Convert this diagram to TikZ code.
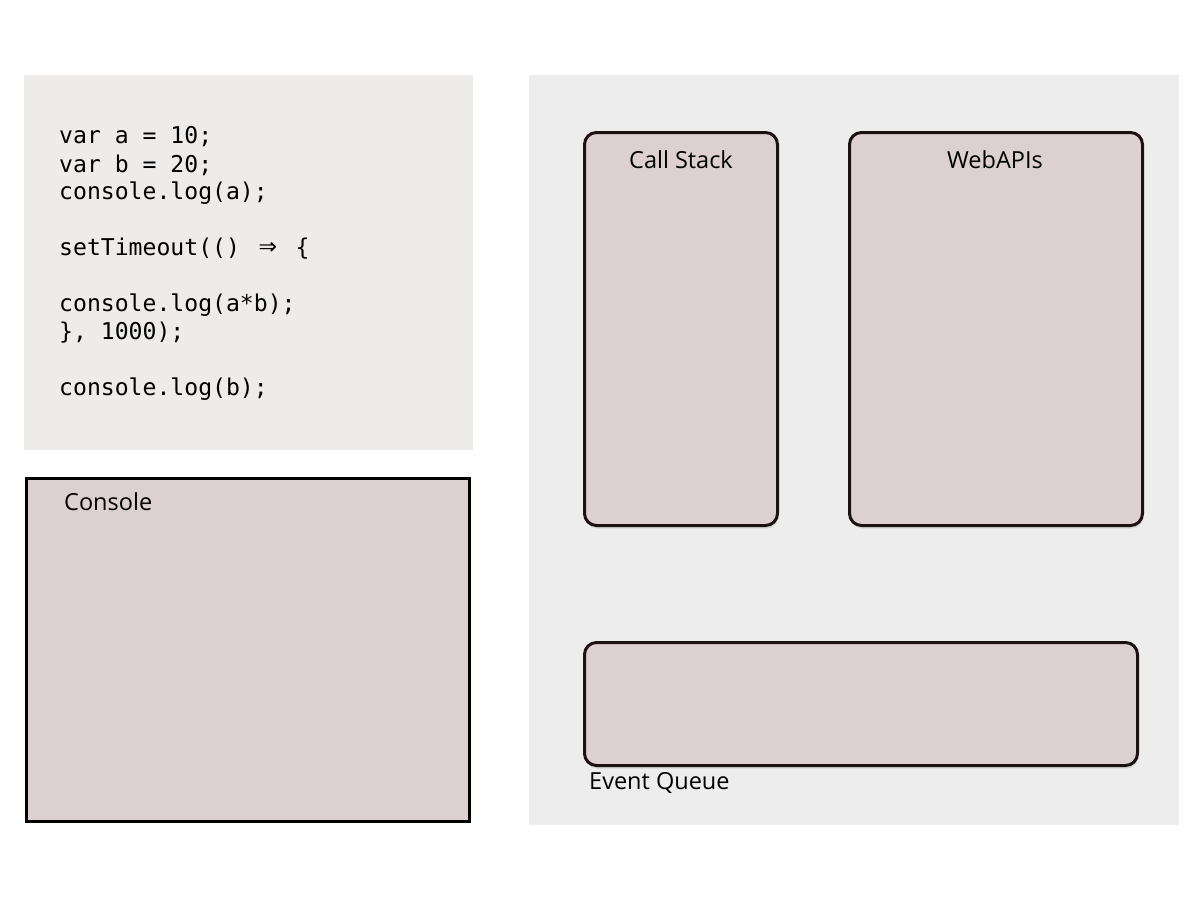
\documentclass[tikz,border=0pt]{standalone}
\usepackage{fontspec}
\setmainfont{Open Sans}
\newfontfamily\codefont{DejaVu Sans Mono}
\usetikzlibrary{shadows}
\definecolor{codebg}{HTML}{EDECEB}
\definecolor{panelbg}{HTML}{EEEDED}
\definecolor{boxfill}{HTML}{DDD0D0}
\definecolor{boxline}{HTML}{1C1212}
\newcommand{\arrowlig}{\makebox[1.204em]{\fontsize{30}{28}\selectfont ⇒}}
\tikzset{
  area/.style={draw=none, inner sep=0pt, outer sep=0pt, anchor=north west},
  slot/.style={draw=boxline, line width=3pt, fill=boxfill, rounded corners=12pt, inner sep=0pt, outer sep=0pt, anchor=north west,
    drop shadow={opacity=0.22, shadow xshift=1pt, shadow yshift=-3pt}},
  label/.style={font=\fontsize{23.5}{28}\selectfont, text=black, inner sep=0pt},
  codeline/.style={font=\codefont\fontsize{23.1}{28}\selectfont, anchor=west, inner sep=0pt}
}
\begin{document}
\begin{tikzpicture}[x=1pt,y=-1pt]
\useasboundingbox (0,0) rectangle (1199,900);
\fill[white] (0,0) rectangle (1199,900);
% code area
\node[area, fill=codebg, minimum width=449pt, minimum height=375pt] (code) at (24,75) {};
\node[codeline] (l1) at (59,137) {var a = 10;};
\node[codeline] (l2) at (59,165) {var b = 20;};
\node[codeline] (l3) at (59,193) {console.log(a);};
\node[codeline] (l4) at (59,249) {setTimeout(() \arrowlig{} \{};
\node[codeline] (l5) at (59,305) {console.log(a*b);};
\node[codeline] (l6) at (59,333) {\}, 1000);};
\node[codeline] (l7) at (59,389) {console.log(b);};
% console
\node[area, draw=black, line width=3pt, fill=boxfill, minimum width=443pt, minimum height=343pt] (console) at (26.5,478.5) {};
\node[label, anchor=west] (consolelbl) at (64,502) {Console};
% right panel
\node[area, fill=panelbg, minimum width=650pt, minimum height=750pt] (panel) at (529,75) {};
\node[slot, minimum width=193pt, minimum height=393pt] (stack) at (584.5,132.5) {};
\node[label] (stacklbl) at (681,160) {Call Stack};
\node[slot, minimum width=293pt, minimum height=393pt] (web) at (849.5,132.5) {};
\node[label] (weblbl) at (995,160) {WebAPIs};
\node[slot, minimum width=553pt, minimum height=123pt] (queue) at (584.5,642.5) {};
\node[label, anchor=west] (queuelbl) at (589,783) {Event Queue};
\end{tikzpicture}
\end{document}
